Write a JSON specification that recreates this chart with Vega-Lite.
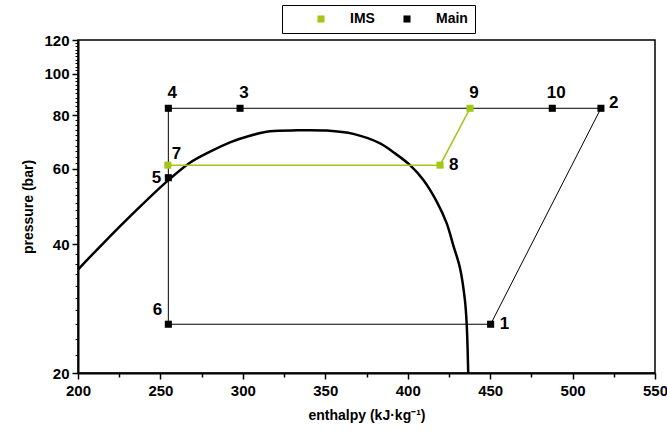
{
  "$schema": "https://vega.github.io/schema/vega-lite/v6.json",
  "width": 577,
  "height": 333,
  "autosize": "none",
  "padding": {"left": 78, "top": 40, "right": 12, "bottom": 68},
  "background": "white",
  "config": {
    "view": {"stroke": "black", "strokeWidth": 1.5},
    "font": "Liberation Sans",
    "axis": {
      "grid": false,
      "domainColor": "black",
      "domainWidth": 2,
      "tickColor": "black",
      "tickWidth": 1.5,
      "labelColor": "black",
      "titleColor": "black",
      "labelFont": "Liberation Sans",
      "titleFont": "Liberation Sans",
      "labelFontWeight": "bold",
      "titleFontWeight": "bold",
      "labelFontSize": 15,
      "titleFontSize": 14,
      "labelFlush": false
    }
  },
  "datasets": {
    "dome": [
      {"i": 0, "h": 200.0, "p": 34.9},
      {"i": 1, "h": 215.3, "p": 40.2},
      {"i": 2, "h": 235.6, "p": 48.1},
      {"i": 3, "h": 253.8, "p": 56.0},
      {"i": 4, "h": 267.9, "p": 62.0},
      {"i": 5, "h": 280.1, "p": 65.8},
      {"i": 6, "h": 292.2, "p": 69.2},
      {"i": 7, "h": 304.3, "p": 71.7},
      {"i": 8, "h": 316.5, "p": 73.4},
      {"i": 9, "h": 333.0, "p": 73.8},
      {"i": 10, "h": 350.8, "p": 73.7},
      {"i": 11, "h": 367.0, "p": 72.4},
      {"i": 12, "h": 383.2, "p": 68.8},
      {"i": 13, "h": 392.3, "p": 65.2},
      {"i": 14, "h": 401.4, "p": 61.2},
      {"i": 15, "h": 409.5, "p": 56.5},
      {"i": 16, "h": 417.6, "p": 50.3},
      {"i": 17, "h": 423.6, "p": 44.8},
      {"i": 18, "h": 427.6, "p": 39.8},
      {"i": 19, "h": 431.7, "p": 35.2},
      {"i": 20, "h": 434.7, "p": 29.6},
      {"i": 21, "h": 435.8, "p": 25.9},
      {"i": 22, "h": 436.7, "p": 20.0}
    ],
    "paths": [
      {"series": "Main", "seq": 0, "h": 450.3, "p": 26.0},
      {"series": "Main", "seq": 1, "h": 517.2, "p": 83.1},
      {"series": "Main", "seq": 2, "h": 487.7, "p": 83.1},
      {"series": "Main", "seq": 3, "h": 298.3, "p": 83.1},
      {"series": "Main", "seq": 4, "h": 254.8, "p": 83.1},
      {"series": "Main", "seq": 5, "h": 254.8, "p": 57.2},
      {"series": "Main", "seq": 6, "h": 254.8, "p": 26.0},
      {"series": "Main", "seq": 7, "h": 450.3, "p": 26.0},
      {"series": "IMS", "seq": 0, "h": 254.5, "p": 61.2},
      {"series": "IMS", "seq": 1, "h": 419.6, "p": 61.2},
      {"series": "IMS", "seq": 2, "h": 437.8, "p": 83.1}
    ],
    "points": [
      {"label": "1", "series": "Main", "h": 450.3, "p": 26.0},
      {"label": "2", "series": "Main", "h": 517.2, "p": 83.1},
      {"label": "3", "series": "Main", "h": 298.3, "p": 83.1},
      {"label": "4", "series": "Main", "h": 254.8, "p": 83.1},
      {"label": "5", "series": "Main", "h": 254.8, "p": 57.2},
      {"label": "6", "series": "Main", "h": 254.8, "p": 26.0},
      {"label": "10", "series": "Main", "h": 487.7, "p": 83.1},
      {"label": "7", "series": "IMS", "h": 254.5, "p": 61.2},
      {"label": "8", "series": "IMS", "h": 419.6, "p": 61.2},
      {"label": "9", "series": "IMS", "h": 437.8, "p": 83.1}
    ]
  },
  "resolve": {"axis": {"x": "independent", "y": "independent"}},
  "layer": [
    {
      "data": {"name": "dome"},
      "mark": {"type": "line", "color": "black", "strokeWidth": 2.5, "interpolate": "catmull-rom"},
      "encoding": {
        "x": {"field": "h", "type": "quantitative", "scale": {"domain": [200, 550], "nice": false, "zero": false},
          "axis": {"title": "enthalpy (kJ·kg⁻¹)", "values": [200, 250, 300, 350, 400, 450, 500, 550], "tickSize": 6, "labelPadding": 4, "titlePadding": 10, "orient": "bottom"}},
        "y": {"field": "p", "type": "quantitative", "scale": {"type": "log", "domain": [20, 120], "nice": false, "zero": false},
          "axis": {"title": "pressure (bar)", "values": [20, 40, 60, 80, 100, 120], "format": "d", "tickSize": 6, "labelPadding": 3, "titlePadding": 8, "orient": "left"}},
        "order": {"field": "i", "type": "quantitative"}
      }
    },
    {
      "data": {"name": "paths"},
      "transform": [{"filter": "datum.series == 'Main'"}],
      "mark": {"type": "line", "color": "black", "strokeWidth": 1},
      "encoding": {
        "x": {"field": "h", "type": "quantitative",
          "axis": {"title": null, "values": [225, 275, 325, 375, 425, 475, 525], "labels": false, "tickSize": 4, "domain": false, "orient": "bottom"}},
        "y": {"field": "p", "type": "quantitative",
          "axis": {"title": null, "values": [22, 24, 26, 28, 30, 32, 34, 36, 38, 42, 44, 46, 48, 50, 52, 54, 56, 58, 62, 64, 66, 68, 70, 72, 74, 76, 78, 82, 84, 86, 88, 90, 92, 94, 96, 98, 102, 104, 106, 108, 110, 112, 114, 116, 118], "labels": false, "tickSize": 3, "tickWidth": 1, "domain": false, "orient": "left"}},
        "order": {"field": "seq", "type": "quantitative"}
      }
    },
    {
      "data": {"name": "paths"},
      "transform": [{"filter": "datum.series == 'IMS'"}],
      "mark": {"type": "line", "color": "#a4c615", "strokeWidth": 1.5},
      "encoding": {
        "x": {"field": "h", "type": "quantitative", "axis": null},
        "y": {"field": "p", "type": "quantitative", "axis": null},
        "order": {"field": "seq", "type": "quantitative"}
      }
    },
    {
      "data": {"name": "points"},
      "mark": {"type": "point", "shape": "square", "filled": true, "size": 50, "opacity": 1},
      "encoding": {
        "x": {"field": "h", "type": "quantitative", "axis": null},
        "y": {"field": "p", "type": "quantitative", "axis": null},
        "color": {"field": "series", "type": "nominal",
          "scale": {"domain": ["IMS", "Main"], "range": ["#a4c615", "black"]},
          "legend": {"title": null, "orient": "none", "legendX": 204, "legendY": -35, "direction": "horizontal",
            "strokeColor": "black", "padding": 7, "symbolType": "square", "symbolSize": 50,
            "labelFont": "Liberation Sans", "labelFontWeight": "bold", "labelFontSize": 14, "labelColor": "black",
            "columnPadding": 0, "labelOffset": 22, "symbolOffset": 25}}
      }
    },
    {
      "data": {"name": "points"},
      "transform": [{"filter": {"field": "label", "oneOf": ["3", "4", "9", "10"]}}],
      "mark": {"type": "text", "align": "center", "baseline": "middle", "dx": 4, "dy": -15, "fontSize": 17, "fontWeight": "bold", "color": "black"},
      "encoding": {"x": {"field": "h", "type": "quantitative", "axis": null}, "y": {"field": "p", "type": "quantitative", "axis": null}, "text": {"field": "label"}}
    },
    {
      "data": {"name": "points"},
      "transform": [{"filter": {"field": "label", "oneOf": ["1", "8"]}}],
      "mark": {"type": "text", "align": "left", "baseline": "middle", "dx": 9, "dy": 0, "fontSize": 17, "fontWeight": "bold", "color": "black"},
      "encoding": {"x": {"field": "h", "type": "quantitative", "axis": null}, "y": {"field": "p", "type": "quantitative", "axis": null}, "text": {"field": "label"}}
    },
    {
      "data": {"name": "points"},
      "transform": [{"filter": {"field": "label", "oneOf": ["2"]}}],
      "mark": {"type": "text", "align": "left", "baseline": "middle", "dx": 8, "dy": -5, "fontSize": 17, "fontWeight": "bold", "color": "black"},
      "encoding": {"x": {"field": "h", "type": "quantitative", "axis": null}, "y": {"field": "p", "type": "quantitative", "axis": null}, "text": {"field": "label"}}
    },
    {
      "data": {"name": "points"},
      "transform": [{"filter": {"field": "label", "oneOf": ["5"]}}],
      "mark": {"type": "text", "align": "right", "baseline": "middle", "dx": -7, "dy": 0, "fontSize": 17, "fontWeight": "bold", "color": "black"},
      "encoding": {"x": {"field": "h", "type": "quantitative", "axis": null}, "y": {"field": "p", "type": "quantitative", "axis": null}, "text": {"field": "label"}}
    },
    {
      "data": {"name": "points"},
      "transform": [{"filter": {"field": "label", "oneOf": ["6"]}}],
      "mark": {"type": "text", "align": "right", "baseline": "middle", "dx": -6, "dy": -14, "fontSize": 17, "fontWeight": "bold", "color": "black"},
      "encoding": {"x": {"field": "h", "type": "quantitative", "axis": null}, "y": {"field": "p", "type": "quantitative", "axis": null}, "text": {"field": "label"}}
    },
    {
      "data": {"name": "points"},
      "transform": [{"filter": {"field": "label", "oneOf": ["7"]}}],
      "mark": {"type": "text", "align": "left", "baseline": "middle", "dx": 4, "dy": -11, "fontSize": 17, "fontWeight": "bold", "color": "black"},
      "encoding": {"x": {"field": "h", "type": "quantitative", "axis": null}, "y": {"field": "p", "type": "quantitative", "axis": null}, "text": {"field": "label"}}
    }
  ]
}
